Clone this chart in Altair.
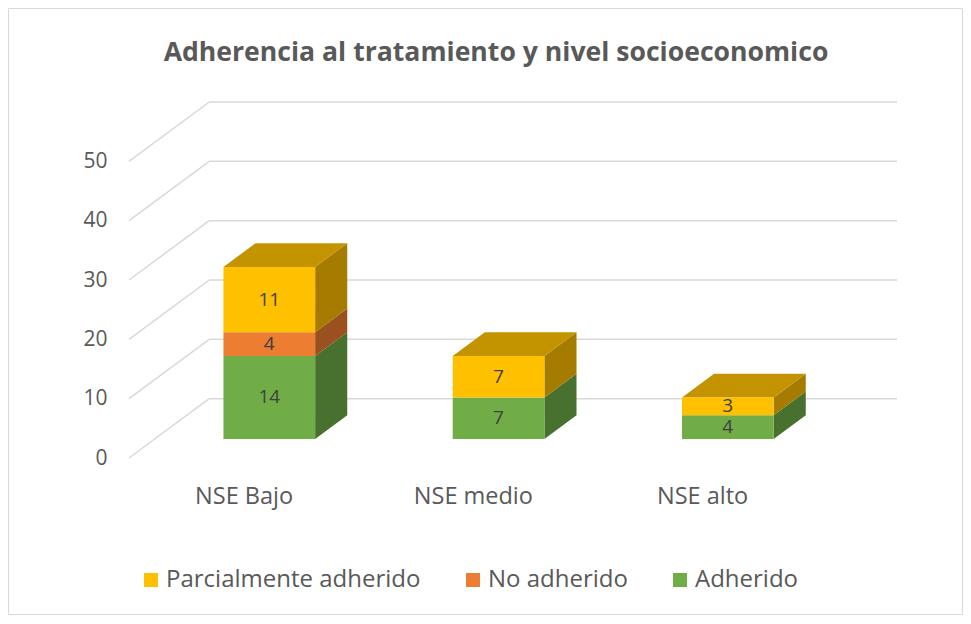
import altair as alt
import pandas as pd

# ---------------- data ----------------
title_text = "Adherencia al tratamiento y nivel socioeconomico"
categories = ["NSE Bajo", "NSE medio", "NSE alto"]
adherido = [14, 7, 4]
no_adherido = [4, 0, 0]
parcialmente = [11, 7, 3]
stack_order = ["Adherido", "No adherido", "Parcialmente adherido"]   # bottom -> top
legend_order = ["Parcialmente adherido", "No adherido", "Adherido"]
front_colors = ["#FFC000", "#ED7D31", "#70AD47"]                    # in legend_order
y_ticks = [0, 10, 20, 30, 40, 50]

# ---------------- 3D projection parameters (style) ----------------
DX = 0.35    # full depth shift in category units
DY = 10.0    # full depth shift in value units
F1 = 0.32    # bar front depth (fraction of full depth)
F2 = 0.72    # bar back depth
HW = 0.2     # half bar width in category units


def shade(hex_color, k):
    h = hex_color.lstrip("#")
    r, g, b = (int(h[i:i + 2], 16) for i in (0, 2, 4))
    return "#{:02X}{:02X}{:02X}".format(int(r * k), int(g * k), int(b * k))


color_of = dict(zip(legend_order, front_colors))
values_of = {"Adherido": adherido, "No adherido": no_adherido,
             "Parcialmente adherido": parcialmente}

front_rows, side_rows, top_rows = [], [], []
for i, cat in enumerate(categories):
    base = 0
    last = None
    for s in stack_order:
        v = values_of[s][i]
        if v == 0:
            continue
        y0, y1 = base, base + v
        front_rows.append(dict(cat=cat, serie=s, value=v,
                               x=i - HW + F1 * DX, x2=i + HW + F1 * DX,
                               y=y0 + F1 * DY, y2=y1 + F1 * DY,
                               xm=i + F1 * DX, ym=(y0 + y1) / 2 + F1 * DY))
        for f in (F1, F2):
            side_rows.append(dict(face=f"{i}-{s}", x=i + HW + f * DX,
                                  y=y0 + f * DY, y2=y1 + f * DY,
                                  fill=shade(color_of[s], 0.65)))
        base = y1
        last = s
    for f in (F1, F2):
        top_rows.append(dict(face=f"top{i}", y=base + f * DY,
                             x=i - HW + f * DX, x2=i + HW + f * DX,
                             fill=shade(color_of[last], 0.77)))

front_df = pd.DataFrame(front_rows)
side_df = pd.DataFrame(side_rows)
top_df = pd.DataFrame(top_rows)

grid_rows = []
for v in y_ticks:
    grid_rows.append(dict(x=-0.5, y=v, x2=-0.5 + DX, y2=v + DY))
    grid_rows.append(dict(x=-0.5 + DX, y=v + DY, x2=len(categories) - 0.5 + DX, y2=v + DY))
grid_df = pd.DataFrame(grid_rows)

# ---------------- scales / axes ----------------
FONT = "Open Sans"
TXT = "#595959"
xscale = alt.Scale(domain=[-0.5, len(categories) - 0.5 + DX], nice=False, zero=False)
yscale = alt.Scale(domain=[0, 60], nice=False, zero=False)

label_expr = "[" + ",".join(f"'{c}'" for c in categories) + "][datum.value]"
x_axis = alt.Axis(values=list(range(len(categories))), labelExpr=label_expr, title=None,
                  domain=False, ticks=False, grid=False, labelFont=FONT, labelFontSize=23.5,
                  labelColor=TXT, labelPadding=26, labelBaseline="top")
y_axis = alt.Axis(values=y_ticks, title=None, domain=False, ticks=False, grid=False,
                  labelFont=FONT, labelFontSize=21, labelColor=TXT, labelPadding=22)

W, H = 768, 356


def X(field):
    return alt.X(field, scale=xscale, axis=x_axis)


def Y(field):
    return alt.Y(field, scale=yscale, axis=y_axis)


grid = alt.Chart(grid_df).mark_rule(color="#D9D9D9", strokeWidth=1.5).encode(
    x=X("x:Q"), y=Y("y:Q"), x2="x2:Q", y2="y2:Q",
)

front = alt.Chart(front_df).mark_rect(strokeWidth=0).encode(
    x=X("x:Q"), x2="x2:Q",
    y=Y("y:Q"), y2="y2:Q",
    color=alt.Color("serie:N",
                    scale=alt.Scale(domain=legend_order, range=front_colors),
                    legend=alt.Legend(orient="none", legendX=10, legendY=466,
                                      direction="horizontal", columns=3, title=None,
                                      symbolType="square", symbolSize=196,
                                      symbolStrokeWidth=0, symbolOpacity=1,
                                      labelFont=FONT, labelFontSize=24, labelColor=TXT,
                                      labelOffset=3, columnPadding=40, padding=0,
                                      labelLimit=400)),
)

side = alt.Chart(side_df).mark_area(orient="vertical", strokeWidth=0).encode(
    x=X("x:Q"), y=Y("y:Q"), y2="y2:Q",
    detail="face:N",
    fill=alt.Fill("fill:N", scale=None),
)

top = alt.Chart(top_df).mark_area(orient="horizontal", strokeWidth=0).encode(
    y=Y("y:Q"), x=X("x:Q"), x2="x2:Q",
    detail="face:N",
    fill=alt.Fill("fill:N", scale=None),
)

labels = alt.Chart(front_df).mark_text(font=FONT, fontSize=19, color="#404040",
                                       baseline="middle", align="center").encode(
    x=X("xm:Q"), y=Y("ym:Q"),
    text="value:Q",
)

PAD = {"left": 121, "top": 94, "right": 66, "bottom": 157}
frame = alt.Chart(pd.DataFrame({"k": [0]})).mark_rect(
    fill="transparent", stroke="#D9D9D9", strokeWidth=1).encode(
    x=alt.value(-PAD["left"] + 0.5), x2=alt.value(W + PAD["right"] - 0.5),
    y=alt.value(-PAD["top"] + 0.5), y2=alt.value(H + PAD["bottom"] - 0.5),
)

title = alt.Chart(pd.DataFrame({"t": [title_text]})).mark_text(
    font=FONT, fontSize=26.6, fontWeight="bold", color=TXT,
    align="center", baseline="alphabetic").encode(
    text="t:N", x=alt.value(367), y=alt.value(-41),
)

chart = alt.layer(frame, grid, side, top, front, labels, title).properties(
    width=W, height=H,
    autosize=alt.AutoSizeParams(type="none"),
    padding=PAD,
    background="white",
).configure_view(stroke=None)

chart.save("out.html", embed_options={"renderer": "svg", "actions": False})
